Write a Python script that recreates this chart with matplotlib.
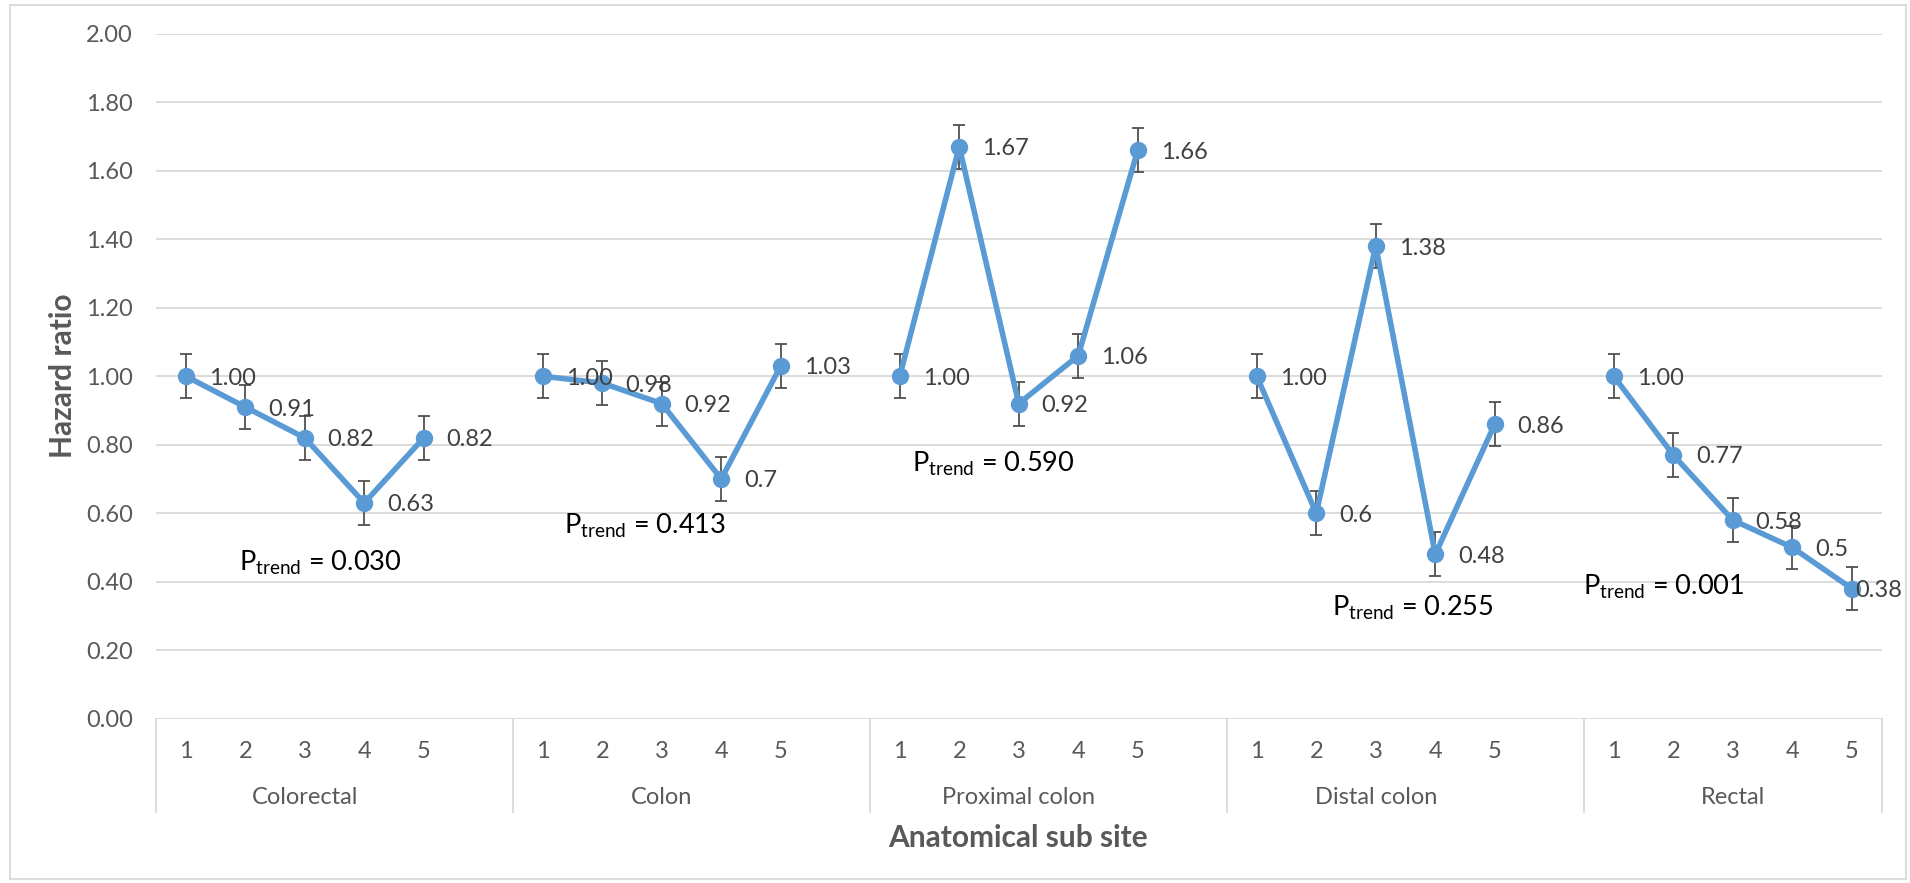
# Hazard ratio by quintile for each anatomical sub site (Excel-style line chart)
import numpy as np
import matplotlib.pyplot as plt
import matplotlib.transforms as mtransforms
from matplotlib.patches import Rectangle

plt.rcParams['font.family'] = ['Lato', 'DejaVu Sans']

# data
groups = ['Colorectal', 'Colon', 'Proximal colon', 'Distal colon', 'Rectal']
levels = ['1', '2', '3', '4', '5']
colorectal = [1.00, 0.91, 0.82, 0.63, 0.82]
colon = [1.00, 0.98, 0.92, 0.70, 1.03]
proximal = [1.00, 1.67, 0.92, 1.06, 1.66]
distal = [1.00, 0.60, 1.38, 0.48, 0.86]
rectal = [1.00, 0.77, 0.58, 0.50, 0.38]
colorectal_lbl = ['1.00', '0.91', '0.82', '0.63', '0.82']
colon_lbl = ['1.00', '0.98', '0.92', '0.7', '1.03']
proximal_lbl = ['1.00', '1.67', '0.92', '1.06', '1.66']
distal_lbl = ['1.00', '0.6', '1.38', '0.48', '0.86']
rectal_lbl = ['1.00', '0.77', '0.58', '0.5', '0.38']
err = 0.064
p_trend = ['0.030', '0.413', '0.590', '0.255', '0.001']

series = [colorectal, colon, proximal, distal, rectal]
series_lbl = [colorectal_lbl, colon_lbl, proximal_lbl, distal_lbl, rectal_lbl]

W, H, DPI = 1910, 883, 100
fig = plt.figure(figsize=(W / DPI, H / DPI), dpi=DPI)

# plot area in pixels (from the reference)
x0, x1 = 156, 1881.5
y_top, y_bot = 33.7, 718.7
ax = fig.add_axes([x0 / W, 1 - y_bot / H, (x1 - x0) / W, (y_bot - y_top) / H])

blue = '#5B9BD5'
slot = 6  # 5 quintiles + one empty category between groups
fs = 17

anns = []
for g, (vals, lbls) in enumerate(zip(series, series_lbl)):
    xs = np.arange(len(vals)) + g * slot
    ax.errorbar(xs, vals, yerr=err, fmt='none', ecolor='#505050', elinewidth=1.3,
                capsize=4.5, capthick=1.3, zorder=2)
    ax.plot(xs, vals, color=blue, lw=4.0, marker='o', ms=11.5, zorder=3)
    for x, v, s in zip(xs, vals, lbls):
        a = ax.annotate(s, (x, v), xytext=(16.5, 0), textcoords='offset points',
                        ha='left', va='center_baseline', fontsize=fs, color='#404040', zorder=5)
        anns.append(a)

# P trend annotations
p_pos = [(0.90, 0.434), (6.35, 0.541), (12.20, 0.721), (19.27, 0.301), (23.49, 0.363)]
for (px, py), p in zip(p_pos, p_trend):
    ax.text(px, py, r'P$_{\mathregular{trend}}$ = ' + p, fontsize=19.5, color='black',
            ha='left', va='baseline', zorder=5)

ax.set_xlim(-0.5, len(series) * slot - 1.5)
ax.set_ylim(0, 2)
ax.set_yticks(np.arange(0, 2.01, 0.2))
ax.set_yticklabels([f'{t:.2f}' for t in np.arange(0, 2.01, 0.2)])
ax.tick_params(axis='y', length=0, pad=16.5, labelsize=fs, labelcolor='#595959')
ax.set_xticks([])
ax.yaxis.grid(True, color='#d9d9d9', lw=1.3)
ax.set_axisbelow(True)
for sp in ax.spines.values():
    sp.set_visible(False)

# multi-level category axis
trans = mtransforms.blended_transform_factory(ax.transData, ax.transAxes)
ph = y_bot - y_top
box_bot = -(811.7 - y_bot) / ph
lvl_y = -(752 - y_bot) / ph
grp_y = -(797 - y_bot) / ph
edges = [-0.5] + [g * slot + 5.5 for g in range(len(groups) - 1)] + [len(groups) * slot - 1.5]
for e in edges:
    ax.plot([e, e], [0, box_bot], transform=trans, color='#d9d9d9', lw=1.3, clip_on=False)
for g, name in enumerate(groups):
    for i, lv in enumerate(levels):
        ax.text(g * slot + i, lvl_y, lv, transform=trans, ha='center', va='center',
                fontsize=fs, color='#595959')
    ax.text(g * slot + 2, grp_y, name, transform=trans, ha='center', va='center',
            fontsize=fs, color='#595959')

fig.text(63 / W, 1 - 376 / H, 'Hazard ratio', rotation=90, ha='center', va='center',
         fontsize=21.5, fontweight='bold', color='#595959')
fig.text(1018 / W, 1 - 838 / H, 'Anatomical sub site', ha='center', va='center',
         fontsize=21.5, fontweight='bold', color='#595959')

# chart border
fig.patches.append(Rectangle((10 / W, 4 / H), (W - 14) / W, (H - 9) / H, transform=fig.transFigure,
                             fill=False, edgecolor='#d9d9d9', lw=1.3))

# keep data labels inside the chart area like Excel does
fig.canvas.draw()
r = fig.canvas.get_renderer()
for a in anns:
    bb = a.get_window_extent(r)
    if bb.x1 > 1902:
        dx = (bb.x1 - 1902) * 72 / DPI
        a.xyann = (a.xyann[0] - dx, a.xyann[1])

fig.savefig('out.png', dpi=DPI)
